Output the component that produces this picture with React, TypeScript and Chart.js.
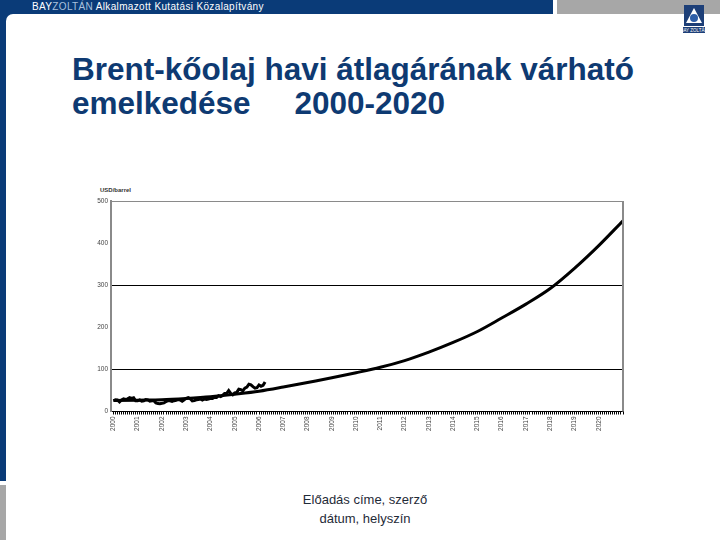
import React, { useEffect, useRef } from "react";
import { Chart, registerables } from "chart.js";

Chart.register(...registerables);

// Forecast (smooth) line: yearly values, USD/barrel
const forecastYears = [2000, 2001, 2002, 2003, 2004, 2005, 2006, 2007, 2008, 2009, 2010, 2011, 2012, 2013, 2014, 2015, 2016, 2017, 2018, 2019, 2020, 2021];
const forecastValues = [26, 27, 28, 31, 35, 41, 48, 58, 69, 80, 92, 105, 121, 141, 164, 190, 222, 255, 292, 340, 394, 453];

// Actual monthly Brent average, Jan 2000 .. Apr 2006
const actualStartYear = 2000;
const actualValues = [
  25.5, 27.8, 27.5, 22.8, 27.6, 29.8, 28.6, 30.0, 32.9, 31.0, 32.5, 25.5,
  25.5, 27.5, 24.5, 25.6, 28.4, 27.7, 24.5, 25.7, 25.6, 20.5, 18.8, 18.7,
  19.4, 20.3, 23.7, 25.7, 25.4, 24.1, 25.7, 26.6, 28.3, 27.5, 24.3, 28.0,
  31.2, 32.8, 30.3, 25.0, 25.8, 27.6, 28.4, 29.8, 27.1, 29.6, 28.8, 29.8,
  31.3, 30.9, 33.8, 33.4, 37.6, 35.5, 38.2, 42.7, 43.2, 49.8, 43.1, 39.6,
  44.5, 45.5, 53.1, 51.9, 49.0, 55.6, 57.9, 64.9, 63.3, 58.9, 55.5, 56.8,
  63.1, 60.0, 62.1, 70.3,
];

const yTicks = [0, 100, 200, 300, 400, 500];
const yGridShown = [100, 300];
const xLabelYears = [2000, 2001, 2002, 2003, 2004, 2005, 2006, 2007, 2008, 2009, 2010, 2011, 2012, 2013, 2014, 2015, 2016, 2017, 2018, 2019, 2020];
const xMin = 1999.9;
const xMax = 2021;
const yAxisTitle = "USD/barrel";

const framePlugin = {
  id: "frame",
  afterDraw(chart: any) {
    const { ctx, chartArea } = chart;
    ctx.save();
    ctx.strokeStyle = "#8a8a8a";
    ctx.lineWidth = 1;
    ctx.beginPath();
    ctx.moveTo(chartArea.left, chartArea.top + 0.5);
    ctx.lineTo(chartArea.right, chartArea.top + 0.5);
    ctx.stroke();
    ctx.lineWidth = 2;
    ctx.beginPath();
    ctx.moveTo(chartArea.right, chartArea.top);
    ctx.lineTo(chartArea.right, chartArea.bottom);
    ctx.stroke();
    ctx.restore();
  },
};

function BrentChart() {
  const ref = useRef<HTMLCanvasElement | null>(null);
  useEffect(() => {
    if (!ref.current) return;
    const chart = new Chart(ref.current, {
      type: "line",
      data: {
        datasets: [
          {
            label: "forecast",
            data: forecastYears.map((y, i) => ({ x: y, y: forecastValues[i] })),
            borderColor: "#000",
            borderWidth: 3,
            pointRadius: 0,
            cubicInterpolationMode: "monotone",
          },
          {
            label: "actual",
            data: actualValues.map((v, i) => ({ x: actualStartYear + i / 12, y: v })),
            borderColor: "#000",
            borderWidth: 3,
            pointRadius: 0,
            tension: 0,
          },
        ],
      },
      options: {
        animation: false,
        responsive: false,
        maintainAspectRatio: false,
        layout: { padding: { top: 11, right: 17, left: 0, bottom: 0 } },
        plugins: { legend: { display: false }, tooltip: { enabled: false } },
        scales: {
          x: {
            type: "linear",
            min: xMin,
            max: xMax,
            afterBuildTicks(scale: any) {
              const t: any[] = [];
              for (let m = 0; m <= 252; m++) t.push({ value: 2000 + m / 12 });
              scale.ticks = t;
            },
            afterFit(scale: any) {
              scale.height = 38.5;
            },
            ticks: {
              autoSkip: false,
              minRotation: 90,
              maxRotation: 90,
              padding: 2,
              color: "#444",
              font: { size: 6.5 },
              callback(value: any) {
                const r = Math.round(value);
                if (Math.abs(value - r) < 1e-6 && xLabelYears.includes(r)) return String(r);
                return "";
              },
            },
            grid: {
              drawOnChartArea: false,
              drawTicks: true,
              tickLength: 3,
              color: "#000",
              lineWidth: 1,
            },
            border: { display: true, color: "#000", width: 1 },
          },
          y: {
            min: 0,
            max: 500,
            afterBuildTicks(scale: any) {
              scale.ticks = yTicks.map((v) => ({ value: v }));
            },
            afterFit(scale: any) {
              scale.width = 31;
            },
            ticks: {
              padding: 3,
              color: "#444",
              font: { size: 6.5 },
            },
            grid: {
              drawTicks: false,
              color: (c: any) => (yGridShown.includes(c.tick?.value) ? "#000" : "rgba(0,0,0,0)"),
              lineWidth: 1,
            },
            border: { display: true, color: "#8a8a8a", width: 2 },
          },
        },
      },
      plugins: [framePlugin],
    } as any);
    return () => chart.destroy();
  }, []);
  return <canvas ref={ref} width={560} height={260} style={{ position: "absolute", left: 80, top: 190, width: 560, height: 260 }} />;
}

export default function App() {
  const blue = "#0a3b78";
  return (
    <div style={{ position: "fixed", left: 0, top: 0, width: 720, height: 540, background: "#fff", overflow: "hidden", fontFamily: "'Liberation Sans', Arial, sans-serif" }}>
      {/* header band */}
      <div style={{ position: "absolute", left: 0, top: 0, width: 553, height: 14, background: blue }} />
      <div style={{ position: "absolute", left: 557, top: 0, width: 163, height: 14, background: "#a7a7a7" }} />
      <div style={{ position: "absolute", left: 0, top: 0, width: 6, height: 481, background: blue }} />
      <div style={{ position: "absolute", left: 0, top: 485, width: 6, height: 55, background: "#a7a7a7" }} />
      <div style={{ position: "absolute", left: 6, top: 14, width: 10, height: 10, background: blue }} />
      <div style={{ position: "absolute", left: 6, top: 14, width: 20, height: 20, background: "#fff", borderTopLeftRadius: 7 }} />
      <div style={{ position: "absolute", left: 32, top: 1, fontSize: 10, lineHeight: "12px", color: "#fff", whiteSpace: "nowrap", letterSpacing: 0.35 }}>
        BAY<span style={{ color: "#a9c1de" }}>ZOLTÁN</span> Alkalmazott Kutatási Közalapítvány
      </div>
      {/* logo */}
      <svg style={{ position: "absolute", left: 682, top: 4 }} width={24} height={30} viewBox="0 0 24 30">
        <rect x={2} y={1} width={20} height={21} fill="#1d3f78" />
        <polygon points="12,4 20,19 4,19" fill="#fff" />
        <circle cx={12} cy={14} r={4} fill="#2d5ea8" />
        <rect x={1} y={23} width={22} height={6} fill="#1d3f78" />
        <text x={12} y={28} fontSize={4.5} fill="#fff" textAnchor="middle" fontFamily="Liberation Sans, Arial">BAY ZOLTÁN</text>
      </svg>
      {/* title */}
      <div style={{ position: "absolute", left: 72, top: 52, fontSize: 31.5, fontWeight: "bold", lineHeight: "34px", color: "#0e3a72", whiteSpace: "pre" }}>
        {"Brent-kőolaj havi átlagárának várható\nemelkedése     2000-2020"}
      </div>
      {/* axis title */}
      <div style={{ position: "absolute", left: 100, top: 186, fontSize: 6, lineHeight: "8px", color: "#333", fontWeight: "bold", whiteSpace: "nowrap" }}>
        {yAxisTitle}
      </div>
      <BrentChart />
      {/* footer */}
      <div style={{ position: "absolute", left: 265, top: 490, width: 200, textAlign: "center", fontSize: 13, lineHeight: "19px", color: "#1f2b38" }}>
        Előadás címe, szerző
        <br />
        dátum, helyszín
      </div>
    </div>
  );
}
